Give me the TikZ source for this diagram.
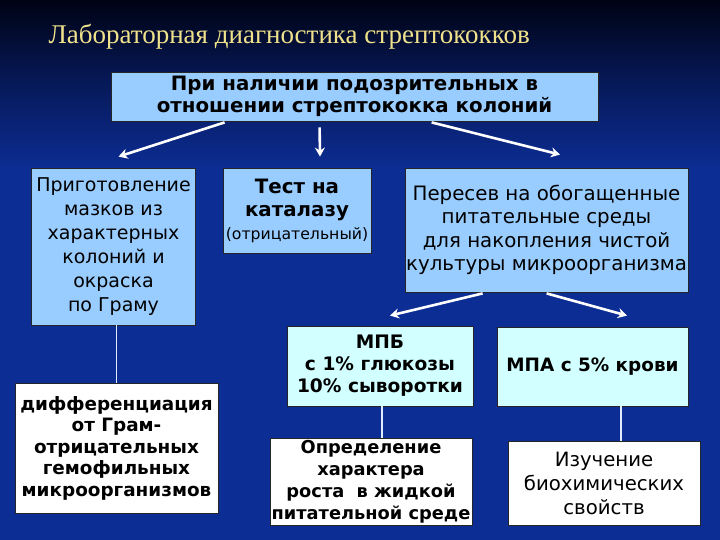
\documentclass[tikz,border=0pt]{standalone}
\usepackage{fontspec}
\setmainfont{DejaVu Sans}
\newfontfamily\titlefont{Liberation Serif}
\usetikzlibrary{calc,arrows.meta}
\definecolor{bgtop}{RGB}{0,3,20}
\definecolor{bgmid}{RGB}{6,24,86}
\definecolor{bgbot}{RGB}{12,45,148}
\definecolor{boxblue}{RGB}{153,204,255}
\definecolor{boxcyan}{RGB}{210,255,255}
\definecolor{titlecol}{RGB}{240,226,140}
\definecolor{linecol}{RGB}{225,235,255}
\begin{document}
\begin{tikzpicture}[x=1pt,y=-1pt,
  box/.style={draw=black!85,line width=0.8pt,inner sep=0pt,align=center,text=black},
  bluebox/.style={box,fill=boxblue},
  cyanbox/.style={box,fill=boxcyan},
  whitebox/.style={box,fill=white},
  arr/.style={draw=white,line width=2.6pt,-{Stealth[length=9pt,width=10pt]}},
  conn/.style={draw=linecol,line width=1.6pt}]
\useasboundingbox (0,0) rectangle (720,540);
\shade[top color=bgtop,bottom color=bgmid] (0,0) rectangle (720,80);
\shade[top color=bgmid,bottom color=bgbot] (0,80) rectangle (720,170);
\fill[bgbot] (0,170) rectangle (720,540);
\node[anchor=base west,text=titlecol,font=\titlefont\fontsize{27}{30}\selectfont] (title) at (45,44) {Лабораторная диагностика стрептококков};
\node[bluebox,minimum width=487,minimum height=49,font=\bfseries\fontsize{19.8}{22}\selectfont] (top) at (354.5,96.5) {При наличии подозрительных в\\отношении стрептококка колоний};
\node[bluebox,font=\fontsize{19}{24}\selectfont,minimum width=164,minimum height=157] (left) at (113.5,246.5) {Приготовление\\мазков из\\характерных\\колоний и\\окраска\\по Граму};
\node[bluebox,minimum width=148,minimum height=85,font=\fontsize{19.8}{23}\selectfont] (cat) at (297,210.5) {\textbf{Тест на}\\\textbf{каталазу}\\{\fontsize{15.7}{18}\selectfont(отрицательный)}};
\node[bluebox,minimum width=283,minimum height=124,font=\fontsize{19.8}{23.5}\selectfont] (right) at (546.5,230) {Пересев на обогащенные\\питательные среды\\для накопления чистой\\культуры микроорганизма};
\node[cyanbox,font=\bfseries\fontsize{18.6}{22}\selectfont,minimum width=186,minimum height=80] (mpb) at (380,366) {МПБ\\с 1\% глюкозы\\10\% сыворотки};
\node[cyanbox,font=\bfseries\fontsize{18.4}{22}\selectfont,minimum width=191,minimum height=79] (mpa) at (592.5,366.5) {МПА с 5\% крови};
\node[whitebox,font=\bfseries\fontsize{18.4}{21.5}\selectfont,minimum width=203,minimum height=130] (diff) at (116.5,448) {дифференциация\\от Грам-\\отрицательных\\гемофильных\\микроорганизмов};
\node[whitebox,font=\bfseries\fontsize{17.8}{22}\selectfont,minimum width=202,minimum height=87] (opred) at (371,481.5) {Определение\\характера\\роста~ в жидкой\\питательной среде};
\node[whitebox,font=\fontsize{19.7}{24}\selectfont,minimum width=192,minimum height=84] (izu) at (604,483) {Изучение\\биохимических\\свойств};
% arrows
\draw[arr] ([xshift=114pt,yshift=-1pt]top.south west) -- ([xshift=5pt,yshift=11pt]left.north);
\draw[arr] ([xshift=209pt,yshift=-6pt]top.south west) -- ([xshift=23pt,yshift=11pt]cat.north);
\draw[arr] ([xshift=321pt,yshift=-1pt]top.south west) -- ([xshift=13.5pt,yshift=13pt]right.north);
\draw[arr] ([xshift=78pt,yshift=-1pt]right.south west) -- ([xshift=10pt,yshift=10pt]mpb.north);
\draw[arr] ([xshift=142pt,yshift=-1pt]right.south west) -- ([xshift=34.5pt,yshift=11pt]mpa.north);
% connectors
\draw[conn] (diff.north) -- (diff.north |- left.south);
\draw[conn] ([xshift=2pt]mpb.south) -- ([xshift=2pt]mpb.south |- opred.north);
\draw[conn] ([xshift=28.5pt]mpa.south) -- ([xshift=28.5pt]mpa.south |- izu.north);
\end{tikzpicture}
\end{document}
